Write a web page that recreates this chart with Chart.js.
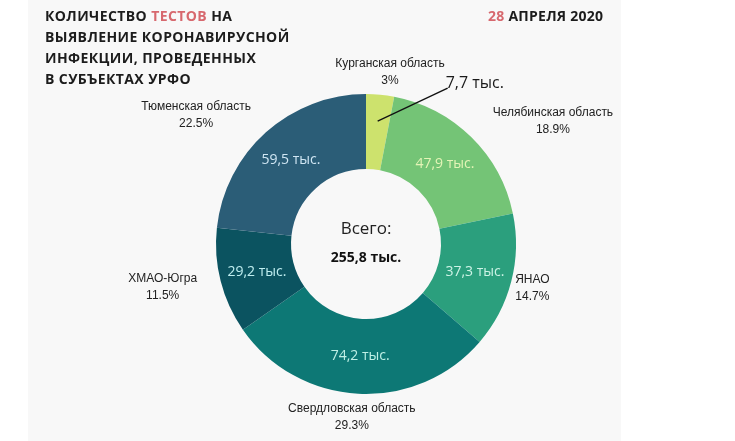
<!DOCTYPE html>
<html><head><meta charset="utf-8">
<script src="https://cdn.jsdelivr.net/npm/chart.js@4/dist/chart.umd.min.js"></script>
<style>
html,body{margin:0;padding:0;background:#fff;}
#wrap{position:relative;width:735px;height:441px;overflow:hidden;background:#fff;}
#panel{position:absolute;left:28px;top:0;width:593px;height:441px;background:#f8f8f8;}
#title{position:absolute;left:45px;top:5px;font-family:"Open Sans",sans-serif;font-weight:700;font-size:14px;line-height:21px;letter-spacing:0.4px;color:#1c1c1c;}
#date{position:absolute;left:488px;top:5px;font-family:"Open Sans",sans-serif;font-weight:700;font-size:14px;line-height:21px;letter-spacing:0.25px;color:#1c1c1c;}
.red{color:#d7686e;}
canvas{position:absolute;left:0;top:0;}
</style></head>
<body><div id="wrap"><div id="panel"></div>
<canvas id="c" width="735" height="441"></canvas>
<div id="title">КОЛИЧЕСТВО <span class="red">ТЕСТОВ</span> НА<br>ВЫЯВЛЕНИЕ КОРОНАВИРУСНОЙ<br>ИНФЕКЦИИ, ПРОВЕДЕННЫХ<br>В СУБЪЕКТАХ УРФО</div>
<div id="date"><span class="red">28</span> АПРЕЛЯ 2020</div>
</div>
<script>
const categories = ["Курганская область","Челябинская область","ЯНАО","Свердловская область","ХМАО-Югра","Тюменская область"];
const values = [7.7, 47.9, 37.3, 74.2, 29.2, 59.5];
const valueLabels = ["7,7 тыс.","47,9 тыс.","37,3 тыс.","74,2 тыс.","29,2 тыс.","59,5 тыс."];
const percentLabels = ["3%","18.9%","14.7%","29.3%","11.5%","22.5%"];
const totalLabel = "255,8 тыс.";
const totalCaption = "Всего:";

const sliceColors = ["#cde26d","#74c476","#2b9f7d","#0d7875","#0b5360","#2b5d77"];
const innerTextColors = ["#111","#e4f4b6","#cdf3e6","#bff0e6","#bfeef0","#d0e6f3"];

const labelPlugin = {
  id:'labels',
  afterDatasetsDraw(chart){
    const ctx = chart.ctx;
    const meta = chart.getDatasetMeta(0);
    meta.data.forEach((arc,i)=>{
      const p = arc.getProps(['x','y','startAngle','endAngle','innerRadius','outerRadius'],true);
      const mid = (p.startAngle+p.endAngle)/2;
      const cs = Math.cos(mid), sn = Math.sin(mid);
      const midR = (p.innerRadius+p.outerRadius)/2;
      ctx.save();
      if (i === 0) {
        const sx = p.x + cs*(midR+11), sy = p.y + sn*(midR+11);
        const ex = sx + 70, ey = sy - 33;
        ctx.strokeStyle = '#111'; ctx.lineWidth = 1.3;
        ctx.beginPath(); ctx.moveTo(sx,sy); ctx.lineTo(ex,ey); ctx.stroke();
        ctx.font = '16px "Open Sans"'; ctx.fillStyle = '#1a1a1a';
        ctx.textAlign = 'left'; ctx.textBaseline = 'middle';
        ctx.fillText(valueLabels[i], ex-2, ey-5);
      } else {
        ctx.font = '14px "Open Sans"'; ctx.fillStyle = innerTextColors[i];
        ctx.textAlign = 'center'; ctx.textBaseline = 'middle';
        ctx.fillText(valueLabels[i], p.x + cs*midR, p.y + sn*midR);
      }
      ctx.font = '12px "Liberation Sans"';
      const w = Math.max(ctx.measureText(categories[i]).width, ctx.measureText(percentLabels[i]).width);
      const R = p.outerRadius;
      const cx = p.x + cs*(R - 16 + 1.1*w);
      const cy = p.y + sn*(R + 23);
      ctx.fillStyle = '#222'; ctx.textAlign='center'; ctx.textBaseline='middle';
      ctx.fillText(categories[i], cx, cy-8);
      ctx.fillText(percentLabels[i], cx, cy+9);
      ctx.restore();
    });
    const a = meta.data[0];
    ctx.save();
    ctx.textAlign='center'; ctx.textBaseline='middle';
    ctx.fillStyle='#222';
    ctx.font='17px "Open Sans"';
    ctx.fillText(totalCaption, a.x, a.y-15);
    ctx.font='bold 14px "Open Sans"';
    ctx.fillStyle='#111';
    ctx.fillText(totalLabel, a.x, a.y+14);
    ctx.restore();
  }
};

new Chart(document.getElementById('c'), {
  type:'doughnut',
  data:{ labels:categories, datasets:[{ data:values, backgroundColor:sliceColors, borderWidth:0 }] },
  options:{
    responsive:false, animation:false, cutout:'50%',
    layout:{ padding:{ left:216, right:219, top:94, bottom:47 } },
    plugins:{ legend:{display:false}, tooltip:{enabled:false} }
  },
  plugins:[labelPlugin]
});
</script>
</body></html>
